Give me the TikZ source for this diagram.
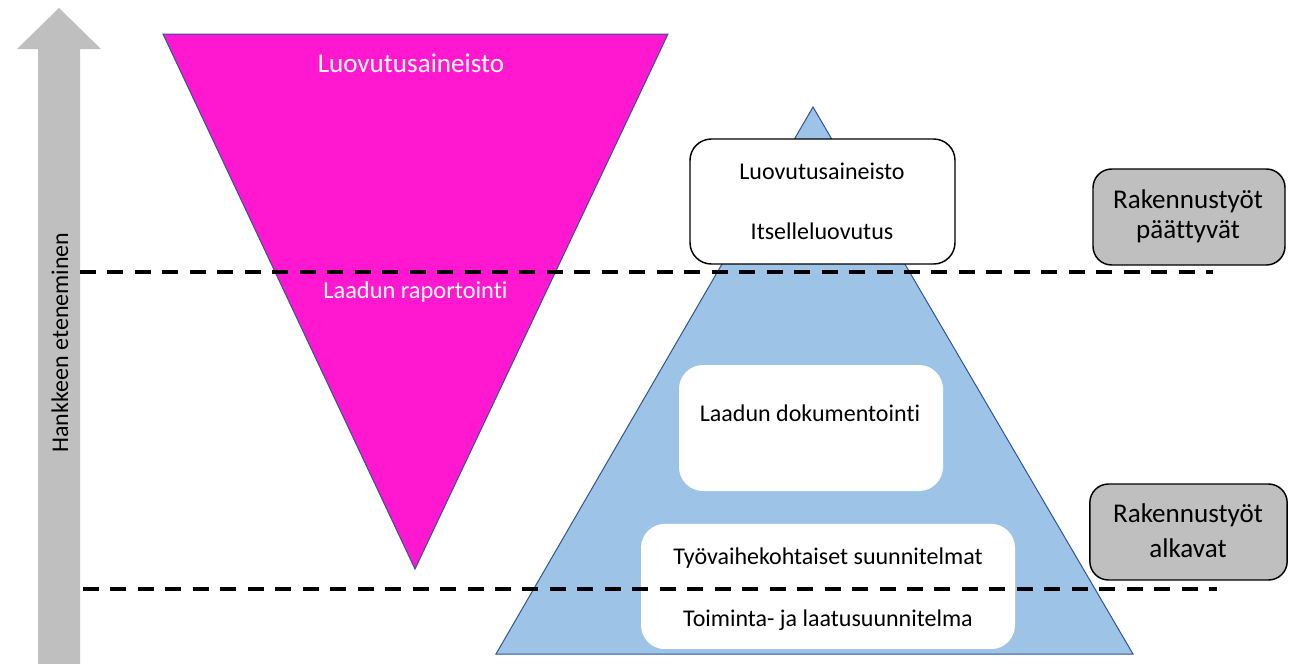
\documentclass[tikz,border=0pt]{standalone}
\usepackage{fontspec}
\setmainfont{Carlito}[Ligatures=NoCommon]
\definecolor{arrowgray}{HTML}{BFBFBF}
\definecolor{magentafill}{HTML}{FF18D0}
\definecolor{bluefill}{HTML}{9DC3E6}
\definecolor{edgeblue}{HTML}{2F5597}
\definecolor{boxgray}{HTML}{BFBFBF}
\tikzset{
  whitebox/.style={draw=none, fill=white, rounded corners=18pt, inner sep=0pt},
  framedbox/.style={draw=black, line width=1.1pt, fill=white, rounded corners=16pt, inner sep=0pt},
  graybox/.style={draw=black, line width=1.1pt, fill=boxgray, rounded corners=14pt, inner sep=0pt},
  milestone/.style={line width=2.4pt, dash pattern=on 12pt off 8.6pt},
  txt/.style={anchor=base, inner sep=0pt, font=\fontsize{18}{22}\selectfont},
  bigtxt/.style={anchor=base, inner sep=0pt, font=\fontsize{20.3}{24}\selectfont},
}
\begin{document}
\begin{tikzpicture}[x=0.75pt, y=-0.75pt]
\useasboundingbox (0,0) rectangle (1296,664);
% progress arrow
\fill[arrowgray] (38,664) -- (38,49) -- (17,49) -- (59,8) -- (101,49) -- (80,49) -- (80,664) -- cycle;
% magenta inverted triangle
\filldraw[fill=magentafill, draw=edgeblue, line width=0.75pt] (163,34) -- (668,34) -- (415,569) -- cycle;
% blue pyramid
\filldraw[fill=bluefill, draw=edgeblue, line width=0.75pt] (813,107) -- (1133,654) -- (496,654) -- cycle;
% boxes in pyramid
\node[framedbox, minimum width=198.75pt, minimum height=93.75pt] (b1) at (822.5,201.5) {};
\node[whitebox, minimum width=198pt, minimum height=94.5pt] (b2) at (811,428) {};
\node[whitebox, minimum width=280.5pt, minimum height=94pt] (b3) at (828,586.5) {};
% milestone lines
\coordinate (l1a) at (80,272);
\coordinate (l1b) at (1213,272);
\coordinate (l2a) at (83,589);
\coordinate (l2b) at (1217,589);
\draw[milestone] (l1a) -- (l1b);
\draw[milestone] (l2a) -- (l2b);
% gray milestone boxes
\node[graybox, minimum width=144pt, minimum height=72pt] (g1) at (1189,217) {};
\node[graybox, minimum width=148pt, minimum height=72pt] (g2) at (1188.5,532) {};
% texts
\node[bigtxt, text=white] (t1) at (411,72) {Luovutusaineisto};
\node[txt, text=white, font=\fontsize{18.3}{22}\selectfont] (t2) at (415.5,298) {Laadun raportointi};
\node[txt] (t3) at (822,179) {Luovutusaineisto};
\node[txt] (t4) at (822,239) {Itselleluovutus};
\node[txt] (t5) at (810,421) {Laadun dokumentointi};
\node[txt] (t6) at (828,564) {Työvaihekohtaiset suunnitelmat};
\node[txt] (t7) at (828,626) {Toiminta- ja laatusuunnitelma};
\node[bigtxt] (t8) at (1188,208) {Rakennustyöt};
\node[bigtxt] (t9) at (1188,238) {päättyvät};
\node[bigtxt] (t10) at (1188,522) {Rakennustyöt};
\node[bigtxt] (t11) at (1188,557) {alkavat};
\node[txt, rotate=90] (t12) at (68,342.5) {Hankkeen eteneminen};
\end{tikzpicture}
\end{document}
